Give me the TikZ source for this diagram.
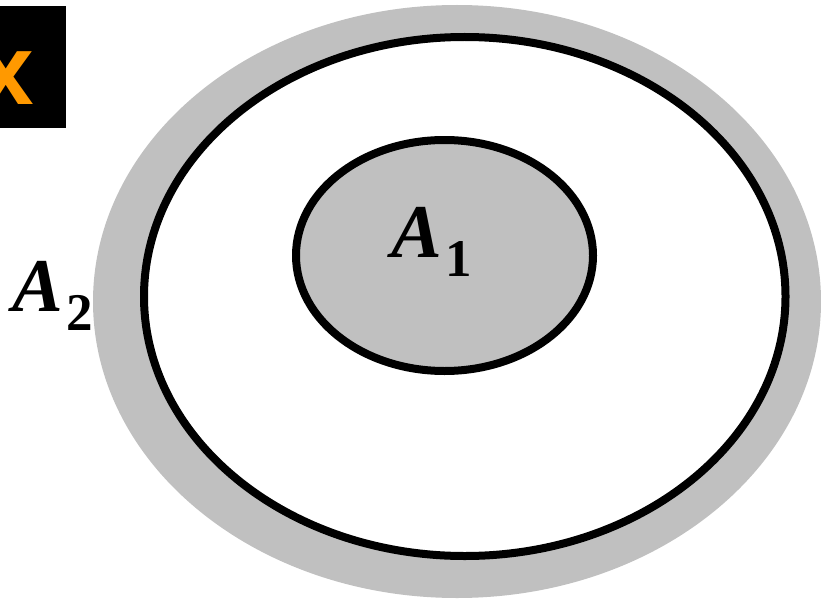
\documentclass[tikz,border=0pt]{standalone}
\usepackage{fontspec}
\setmainfont{Liberation Serif}
\newfontfamily\boxfont{Liberation Sans}
\definecolor{ringgray}{HTML}{C0C0C0}
\definecolor{xorange}{HTML}{FF9900}
\tikzset{
  ring/.style={line width=8pt, draw=black},
  lbl/.style={inner sep=0pt, anchor=base west, font=\fontsize{76}{76}\selectfont\bfseries\itshape},
}
\newcommand{\subnum}[1]{\kern4pt\raisebox{-19pt}{\upshape\fontsize{53}{53}\selectfont #1}}
\begin{document}
\begin{tikzpicture}[x=1pt,y=-1pt]
\useasboundingbox (0,0) rectangle (821,599);
% outer gray region
\fill[ringgray] (457,301.5) ellipse [x radius=364pt, y radius=296.5pt];
% middle black ellipse
\fill[white] (464.75,296.5) ellipse [x radius=320.75pt, y radius=259.5pt];
\draw[ring] (464.75,296.5) ellipse [x radius=320.75pt, y radius=259.5pt];
% inner ellipse
\fill[ringgray] (444.5,255.5) ellipse [x radius=148.5pt, y radius=115.5pt];
\draw[ring] (444.5,255.5) ellipse [x radius=148.5pt, y radius=115.5pt];
% labels
\node[lbl] (a1) at (391,257) {A\subnum{1}};
\node[lbl] (a2) at (12,311) {A\subnum{2}};
% black box with orange x
\fill[black] (-10,6) rectangle (65.5,128);
\node[inner sep=0pt, anchor=base, text=xorange, font=\boxfont\bfseries\fontsize{100}{100}\selectfont] (bx) at (6,105) {x};
\end{tikzpicture}
\end{document}
